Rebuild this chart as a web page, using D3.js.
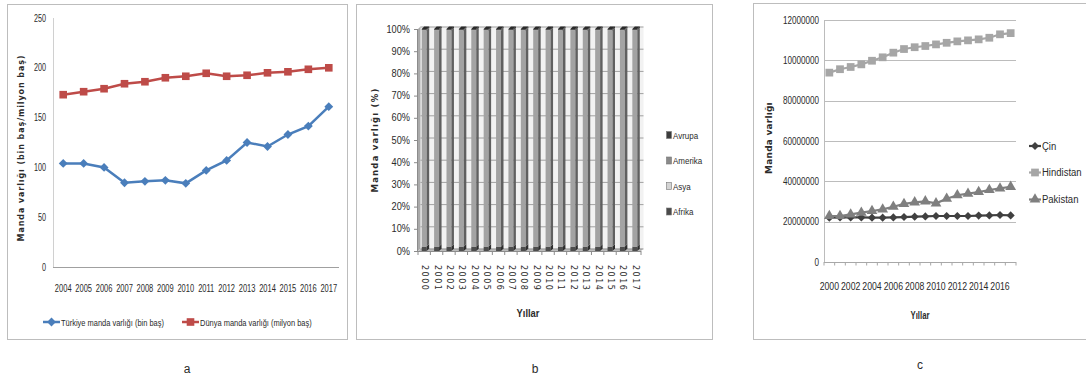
<!DOCTYPE html>
<html>
<head>
<meta charset="utf-8">
<script src="https://cdn.jsdelivr.net/npm/d3@7"></script>
<style>
  body { margin: 0; background: #fff; }
  svg text { fill: #2b2b2b; }
  .narrow { font-family: "Liberation Sans", Arial, sans-serif; }
  .ttl { font-family: "DejaVu Sans", Verdana, sans-serif; font-weight: bold; }
</style>
</head>
<body>
<svg id="chart" width="1086" height="381"></svg>
<script>
// ---- panel a data ----
const yearsA = ['2004', '2005', '2006', '2007', '2008', '2009', '2010', '2011', '2012', '2013', '2014', '2015', '2016', '2017'];
const turkiye = [104, 104, 100, 84.6, 86, 87, 84, 97, 107, 125, 121, 133, 141.5, 161];
const dunya = [173, 176, 179, 184, 186, 190, 191.5, 194.5, 191.5, 192.5, 195, 196, 198.5, 200];
const ticksA = [0, 50, 100, 150, 200, 250];

// ---- panel b data (share of each region, %) ----
const yearsB = ['2000', '2001', '2002', '2003', '2004', '2005', '2006', '2007', '2008', '2009', '2010', '2011', '2012', '2013', '2014', '2015', '2016', '2017'];
const afrika = [2, 2, 2, 2, 2, 2, 2, 2, 2, 2, 2, 2, 2, 2, 2, 2, 2, 2];
const asya = [97.4, 97.4, 97.4, 97.4, 97.4, 97.4, 97.4, 97.4, 97.4, 97.4, 97.4, 97.4, 97.4, 97.4, 97.4, 97.4, 97.4, 97.4];
const amerika = [0.2, 0.2, 0.2, 0.2, 0.2, 0.2, 0.2, 0.2, 0.2, 0.2, 0.2, 0.2, 0.2, 0.2, 0.2, 0.2, 0.2, 0.2];
const avrupa = [0.4, 0.4, 0.4, 0.4, 0.4, 0.4, 0.4, 0.4, 0.4, 0.4, 0.4, 0.4, 0.4, 0.4, 0.4, 0.4, 0.4, 0.4];
const ticksB = [0, 10, 20, 30, 40, 50, 60, 70, 80, 90, 100];

// ---- panel c data ----
const yearsC = yearsB;
const cin = [22.0, 22.1, 22.1, 22.1, 22.0, 22.0, 22.1, 22.3, 22.5, 22.6, 22.8, 22.8, 22.8, 22.8, 23.0, 23.1, 23.3, 23.1].map(v => v * 1e6);
const hindistan = [93.9, 95.6, 96.7, 98.0, 99.8, 101.5, 103.8, 105.6, 106.5, 107.1, 107.9, 108.7, 109.4, 109.9, 110.4, 111.2, 112.9, 113.5].map(v => v * 1e6);
const pakistan = [22.8, 22.8, 23.6, 24.5, 25.3, 26.1, 27.4, 28.8, 29.6, 30.1, 29.1, 31.4, 33.1, 33.9, 34.7, 35.7, 36.5, 37.3].map(v => v * 1e6);
const ticksC = [0, 20e6, 40e6, 60e6, 80e6, 100e6, 120e6];
const tickLabelsC = ['0', '20000000', '40000000', '60000000', '80000000', '10000000', '12000000'];

const svg = d3.select('#chart');

// squeeze text horizontally (stand-in for a condensed face)
function squeeze(sel, k) {
  sel.each(function () {
    const w = this.getComputedTextLength();
    d3.select(this).attr('textLength', w * k).attr('lengthAdjust', 'spacingAndGlyphs');
  });
}

// panel frames
const frames = [[7.5, 4.5, 340, 335], [356.5, 4.5, 356, 335], [753.5, 3.5, 340, 336]];
svg.selectAll('rect.frame').data(frames).enter().append('rect')
  .attr('class', 'frame')
  .attr('x', d => d[0]).attr('y', d => d[1]).attr('width', d => d[2]).attr('height', d => d[3])
  .attr('fill', '#fff').attr('stroke', '#bdbdbd');

// captions
svg.selectAll('text.cap').data([['a', 187, 373], ['b', 535, 373], ['c', 920, 369]]).enter().append('text')
  .attr('class', 'cap')
  .attr('x', d => d[1]).attr('y', d => d[2])
  .attr('text-anchor', 'middle')
  .style('font-family', 'Liberation Sans, Arial, sans-serif').style('font-size', '12px')
  .text(d => d[0]);

// ================= panel a =================
(function () {
  const x = d3.scalePoint().domain(yearsA).range([53, 339]).padding(0.5);
  const y = d3.scaleLinear().domain([0, 250]).range([267, 18]);
  const g = svg.append('g');

  g.append('line').attr('x1', 53.5).attr('x2', 53.5).attr('y1', 18).attr('y2', 267).attr('stroke', '#d0d0d0');
  g.append('line').attr('x1', 53).attr('x2', 339).attr('y1', 267.5).attr('y2', 267.5).attr('stroke', '#a0a0a0');

  g.selectAll('text.yt').data(ticksA).enter().append('text')
    .attr('class', 'narrow').attr('x', 46).attr('y', d => y(d) + 3.5)
    .attr('text-anchor', 'end').style('font-size', '10px').text(d => d)
    .call(squeeze, 0.72);
  g.selectAll('text.xt').data(yearsA).enter().append('text')
    .attr('class', 'narrow').attr('x', d => x(d)).attr('y', 291.5)
    .attr('text-anchor', 'middle').style('font-size', '10px').text(d => d)
    .call(squeeze, 0.75);

  g.append('text').attr('class', 'ttl')
    .attr('transform', 'translate(24,148) rotate(-90)')
    .attr('text-anchor', 'middle').style('font-size', '8px').style('letter-spacing', '0.9px')
    .text('Manda varlığı (bin baş/milyon baş)');

  const line = d3.line().x((d, i) => x(yearsA[i])).y(d => y(d));
  const series = [
    { vals: turkiye, color: '#4a7ebb', sym: d3.symbolDiamond2, size: 50 },
    { vals: dunya, color: '#be4b48', sym: d3.symbolSquare, size: 58 }
  ];
  series.forEach(s => {
    g.append('path').attr('d', line(s.vals)).attr('fill', 'none')
      .attr('stroke', s.color).attr('stroke-width', 2.5);
    g.selectAll(null).data(s.vals).enter().append('path')
      .attr('transform', (d, i) => `translate(${x(yearsA[i])},${y(d)})`)
      .attr('d', d3.symbol(s.sym, s.size)).attr('fill', s.color);
  });

  // legend
  const leg = [
    { x: 43, label: 'Türkiye manda varlığı (bin baş)', s: series[0] },
    { x: 182, label: 'Dünya manda varlığı (milyon baş)', s: series[1] }
  ];
  leg.forEach(l => {
    g.append('line').attr('x1', l.x).attr('x2', l.x + 17).attr('y1', 322).attr('y2', 322)
      .attr('stroke', l.s.color).attr('stroke-width', 2.5);
    g.append('path').attr('transform', `translate(${l.x + 8.5},322)`)
      .attr('d', d3.symbol(l.s.sym, l.s.size)).attr('fill', l.s.color);
    g.append('text').attr('class', 'narrow').attr('x', l.x + 18).attr('y', 325.5)
      .style('font-size', '9px').text(l.label).call(squeeze, 0.83);
  });
})();

// ================= panel b =================
(function () {
  const dx = 2.5, dy = -2.5;
  const x = d3.scaleBand().domain(yearsB).range([418, 641]).paddingInner(0.6).paddingOuter(0.3);
  const y = d3.scaleLinear().domain([0, 100]).range([251, 29]);
  const g = svg.append('g');

  // back wall + side wall + floor
  g.append('rect').attr('x', 418 + dx).attr('y', 29 + dy).attr('width', 223).attr('height', 222)
    .attr('fill', '#f2f2f2');
  g.append('path').attr('d', `M418,29 L${418 + dx},${29 + dy} L${418 + dx},${251 + dy} L418,251 Z`)
    .attr('fill', '#a9a9a9');
  g.append('path').attr('d', `M418,251 L${418 + dx},${251 + dy} L${641 + dx},${251 + dy} L641,251 Z`)
    .attr('fill', '#bdbdbd');

  g.selectAll('line.grid').data(ticksB).enter().append('line')
    .attr('x1', 418 + dx).attr('x2', 641 + dx)
    .attr('y1', d => y(d) + dy + 0.5).attr('y2', d => y(d) + dy + 0.5)
    .attr('stroke', '#8c8c8c').attr('stroke-width', 0.8);

  // stacked 3D columns
  const series = [
    { vals: afrika, front: '#4d4d4d', side: '#2e2e2e' },
    { vals: asya, front: '#a3a3a3', side: '#606060' },
    { vals: amerika, front: '#7a7a7a', side: '#4e4e4e' },
    { vals: avrupa, front: '#404040', side: '#262626' }
  ];
  const stack = yearsB.map((yr, i) => {
    let base = 0;
    return series.map(s => {
      const seg = { yr: yr, y0: base, y1: base + s.vals[i], s: s };
      base += s.vals[i];
      return seg;
    });
  }).flat();
  const bw = x.bandwidth();
  const cols = g.selectAll('g.col').data(stack).enter().append('g');
  cols.append('rect')
    .attr('x', d => x(d.yr)).attr('y', d => y(d.y1))
    .attr('width', bw).attr('height', d => y(d.y0) - y(d.y1))
    .attr('fill', d => d.s.front);
  cols.append('path')
    .attr('d', d => {
      const x1 = x(d.yr) + bw;
      return `M${x1},${y(d.y1)} L${x1 + dx},${y(d.y1) + dy} L${x1 + dx},${y(d.y0) + dy} L${x1},${y(d.y0)} Z`;
    })
    .attr('fill', d => d.s.side);
  cols.filter(d => d.y1 > 99.9).append('path')
    .attr('d', d => {
      const x0 = x(d.yr), yy = y(d.y1);
      return `M${x0},${yy} L${x0 + dx},${yy + dy} L${x0 + bw + dx},${yy + dy} L${x0 + bw},${yy} Z`;
    })
    .attr('fill', '#2a2a2a');

  // axes
  g.append('line').attr('x1', 418).attr('x2', 641).attr('y1', 251.5).attr('y2', 251.5).attr('stroke', '#8c8c8c');
  g.append('line').attr('x1', 417.5).attr('x2', 417.5).attr('y1', 29).attr('y2', 252).attr('stroke', '#8c8c8c');
  const edges = yearsB.map(yr => x(yr) - x.step() * x.paddingInner() / 2).concat([641]);
  g.selectAll('line.tk').data(edges).enter().append('line')
    .attr('x1', d => d).attr('x2', d => d).attr('y1', 251).attr('y2', 255).attr('stroke', '#8c8c8c');
  g.selectAll('line.ytk').data(ticksB).enter().append('line')
    .attr('x1', 414).attr('x2', 418).attr('y1', d => y(d) + 0.5).attr('y2', d => y(d) + 0.5).attr('stroke', '#8c8c8c');

  g.selectAll('text.yt').data(ticksB).enter().append('text')
    .attr('class', 'narrow').attr('x', 410).attr('y', d => y(d) + 3.5)
    .attr('text-anchor', 'end').style('font-size', '10px').text(d => d + '%')
    .call(squeeze, 0.92);
  g.selectAll('text.xt').data(yearsB).enter().append('text')
    .attr('transform', d => `translate(${x(d) + bw / 2 - 2},265) rotate(90)`)
    .style('font-family', 'DejaVu Sans, sans-serif').style('font-size', '8px')
    .style('letter-spacing', '1.5px').text(d => d);

  g.append('text').attr('class', 'ttl')
    .attr('transform', 'translate(378,140) rotate(-90)')
    .attr('text-anchor', 'middle').style('font-size', '8.5px').style('letter-spacing', '1.2px')
    .text('Manda varlığı (%)');
  g.append('text').attr('class', 'narrow').attr('x', 528).attr('y', 317)
    .attr('text-anchor', 'middle').style('font-size', '11px').style('font-weight', 'bold')
    .attr('textLength', 23).attr('lengthAdjust', 'spacingAndGlyphs').text('Yıllar');

  // legend
  const leg = [
    { label: 'Avrupa', fill: '#3c3c3c', y: 135 },
    { label: 'Amerika', fill: '#8a8a8a', y: 160.5 },
    { label: 'Asya', fill: '#d4d4d4', y: 186 },
    { label: 'Afrika', fill: '#4a4a4a', y: 211.5 }
  ];
  g.selectAll('rect.lg').data(leg).enter().append('rect')
    .attr('x', 666.5).attr('y', d => d.y - 3.5).attr('width', 5).attr('height', 7)
    .attr('fill', d => d.fill).attr('stroke', '#777').attr('stroke-width', 0.6);
  g.selectAll('text.lg').data(leg).enter().append('text')
    .attr('class', 'narrow').attr('x', 673).attr('y', d => d.y + 3.5)
    .style('font-size', '9.5px').text(d => d.label).call(squeeze, 0.84);
})();

// ================= panel c =================
(function () {
  const x = d3.scalePoint().domain(yearsC).range([824, 1016]).padding(0.5);
  const y = d3.scaleLinear().domain([0, 120e6]).range([262, 20]);
  const g = svg.append('g');

  g.selectAll('line.grid').data(ticksC.slice(1)).enter().append('line')
    .attr('x1', 824).attr('x2', 1016).attr('y1', d => Math.round(y(d)) + 0.5).attr('y2', d => Math.round(y(d)) + 0.5)
    .attr('stroke', '#bcbcbc');
  g.append('line').attr('x1', 824.5).attr('x2', 824.5).attr('y1', 20).attr('y2', 262).attr('stroke', '#bcbcbc');
  g.append('line').attr('x1', 824).attr('x2', 1016).attr('y1', 262.5).attr('y2', 262.5).attr('stroke', '#a8a8a8');
  const step = x.step();
  g.selectAll('line.tk').data(yearsC.map((d, i) => 824 + i * step).concat([1016])).enter().append('line')
    .attr('x1', d => d).attr('x2', d => d).attr('y1', 262).attr('y2', 265.5).attr('stroke', '#a8a8a8');

  g.selectAll('text.yt').data(ticksC).enter().append('text')
    .attr('class', 'narrow').attr('x', 819).attr('y', d => y(d) + 3.5)
    .attr('text-anchor', 'end').style('font-size', '10px').text((d, i) => tickLabelsC[i])
    .call(squeeze, 0.81);
  g.selectAll('text.xt').data(yearsC.filter((d, i) => i % 2 === 0)).enter().append('text')
    .attr('class', 'narrow').attr('x', d => x(d)).attr('y', 290)
    .attr('text-anchor', 'middle').style('font-size', '10px').text(d => d)
    .call(squeeze, 0.87);

  g.append('text').attr('class', 'ttl')
    .attr('transform', 'translate(772,138) rotate(-90)')
    .attr('text-anchor', 'middle').style('font-size', '9px').style('letter-spacing', '0.2px')
    .text('Manda varlığı');
  g.append('text').attr('class', 'narrow').attr('x', 920).attr('y', 319)
    .attr('text-anchor', 'middle').style('font-size', '11px').style('font-weight', 'bold')
    .attr('textLength', 19).attr('lengthAdjust', 'spacingAndGlyphs').text('Yıllar');

  const line = d3.line().x((d, i) => x(yearsC[i])).y(d => y(d));
  const series = [
    { name: 'Çin', vals: cin, color: '#404040', sym: d3.symbolDiamond2, size: 42, ly: 146 },
    { name: 'Hindistan', vals: hindistan, color: '#a6a6a6', sym: d3.symbolSquare, size: 60, ly: 172.5 },
    { name: 'Pakistan', vals: pakistan, color: '#7f7f7f', sym: d3.symbolTriangle, size: 50, ly: 199.5 }
  ];
  series.forEach(s => {
    g.append('path').attr('d', line(s.vals)).attr('fill', 'none')
      .attr('stroke', s.color).attr('stroke-width', 2.2);
    g.selectAll(null).data(s.vals).enter().append('path')
      .attr('transform', (d, i) => `translate(${x(yearsC[i])},${y(d)})`)
      .attr('d', d3.symbol(s.sym, s.size)).attr('fill', s.color);
    g.append('line').attr('x1', 1029).attr('x2', 1041).attr('y1', s.ly).attr('y2', s.ly)
      .attr('stroke', s.color).attr('stroke-width', 2.2);
    g.append('path').attr('transform', `translate(1035,${s.ly})`)
      .attr('d', d3.symbol(s.sym, s.size)).attr('fill', s.color);
    g.append('text').attr('class', 'narrow').attr('x', 1042).attr('y', s.ly + 3.5)
      .style('font-size', '10px').text(s.name).call(squeeze, 0.95);
  });
})();
</script>
</body>
</html>
